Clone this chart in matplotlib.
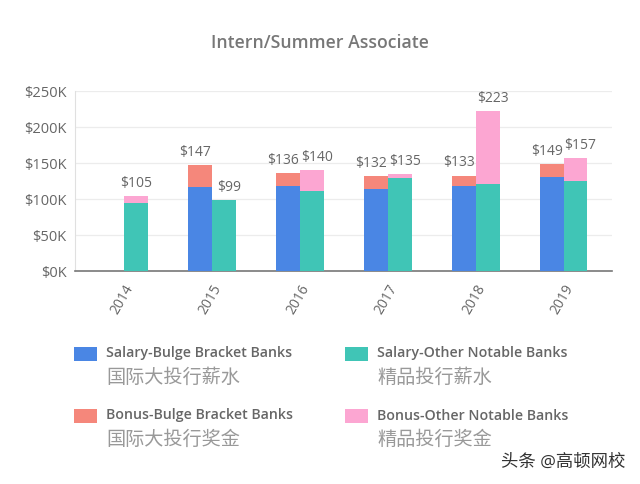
import matplotlib
matplotlib.use("Agg")
import matplotlib.pyplot as plt
from matplotlib.patches import Rectangle
import numpy as np

plt.rcParams['font.family'] = ['Open Sans', 'Noto Sans CJK SC', 'DejaVu Sans']

years = ["2014", "2015", "2016", "2017", "2018", "2019"]
# values in $K (2014 has no bulge bracket bar)
salary_bulge = [0, 117, 118, 114, 119, 131]
bonus_bulge = [0, 30, 18, 18, 14, 18]
salary_other = [95, 99, 111, 129, 121, 126]
bonus_other = [10, 0, 29, 6, 102, 31]
total_bulge = [None, 147, 136, 132, 133, 149]
total_other = [105, 99, 140, 135, 223, 157]
yticks = [0, 50, 100, 150, 200, 250]

c_blue = "#4a86e4"
c_salmon = "#f5877b"
c_teal = "#40c5b6"
c_pink = "#fca6d2"
txt = "#666666"

fig = plt.figure(figsize=(6.4, 4.84), dpi=100)
ax = fig.add_axes([0.117, 0.44, 0.839, 0.371])

x = np.arange(len(years))
w = 0.273
xb = x - w/2
xo = x + w/2

ax.bar(xb, salary_bulge, w, color=c_blue, zorder=3)
ax.bar(xb, bonus_bulge, w, bottom=salary_bulge, color=c_salmon, zorder=3)
ax.bar(xo, salary_other, w, color=c_teal, zorder=3)
ax.bar(xo, bonus_other, w, bottom=salary_other, color=c_pink, zorder=3)

for i in range(len(years)):
  dx = 0 if total_bulge[i] is None else 3.5
  if total_bulge[i] is not None:
    ax.annotate("$"+str(total_bulge[i]), (xb[i], total_bulge[i]), xytext=(-dx, 6.5),
                textcoords="offset points", ha="center", va="baseline", fontsize=10, color=txt)
  ax.annotate("$"+str(total_other[i]), (xo[i], total_other[i]), xytext=(dx, 6.5),
              textcoords="offset points", ha="center", va="baseline", fontsize=10, color=txt)

ax.set_xlim(-0.56, 5.55)
ax.set_ylim(0, 250)
ax.set_yticks(yticks)
ax.set_yticklabels(["$"+str(v)+"K" for v in yticks], fontsize=10.5, color=txt)
ax.set_xticks(x)
ax.set_xticklabels(years, rotation=60, ha="right", rotation_mode="anchor", fontsize=10, color=txt)
ax.tick_params(axis="x", length=0, pad=8)
ax.tick_params(axis="y", length=0, pad=6)
ax.grid(axis="y", color="#ececec", linewidth=0.9, zorder=0)
for s in ["top", "right"]:
  ax.spines[s].set_visible(False)
ax.spines["left"].set_color("#e0e0e0")
ax.spines["bottom"].set_color("#777777")
ax.spines["bottom"].set_linewidth(1.2)

fig.text(0.5, 1-43.3/484, "Intern/Summer Associate", ha="center", va="center", fontsize=12.7,
         fontweight="semibold", color="#777777")

# legend, two columns, English + Chinese line
legend_items = [
  (c_blue, "Salary-Bulge Bracket Banks", "国际大投行薪水", 74, 353.5),
  (c_teal, "Salary-Other Notable Banks", "精品投行薪水", 345, 353.5),
  (c_salmon, "Bonus-Bulge Bracket Banks", "国际大投行奖金", 74, 415.5),
  (c_pink, "Bonus-Other Notable Banks", "精品投行奖金", 345, 415.5),
]
W, H = 640.0, 484.0
for col, en, zh, px, py in legend_items:
  fig.add_artist(Rectangle((px/W, 1-(py+7)/H), 23/W, 14/H, transform=fig.transFigure,
                           facecolor=col, edgecolor="none"))
  fig.text((px+32)/W, 1-py/H, en, ha="left", va="center", fontsize=10.2,
           fontweight="semibold", color=txt)
  fig.text((px+32)/W, 1-(py+24.5)/H, zh, ha="left", va="center", fontsize=13.8, color="#999999")

fig.text(625/W, 1-463/H, "头条 @高顿网校", ha="right", va="center", fontsize=12.5, color="#333333")

fig.savefig("out.png", dpi=100)
